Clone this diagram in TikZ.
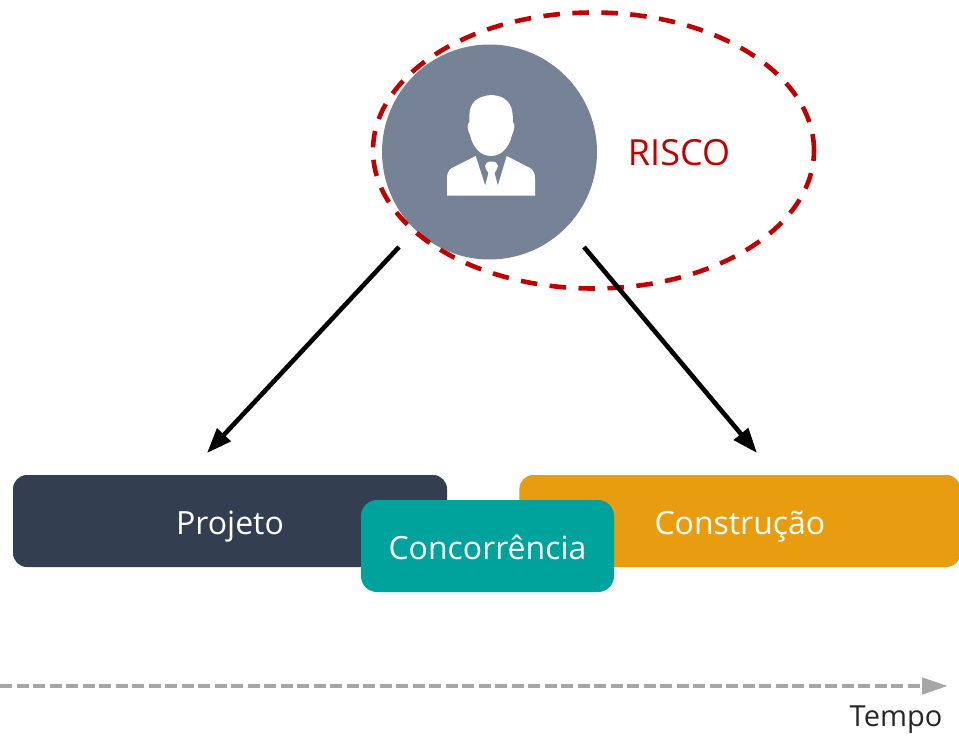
\documentclass[tikz,border=0pt]{standalone}
\usepackage{fontspec}
\setmainfont{Open Sans}
\usetikzlibrary{shapes, arrows.meta, positioning}
\definecolor{projetoblue}{HTML}{333F50}
\definecolor{obraorange}{HTML}{E89C10}
\definecolor{concteal}{HTML}{00A39B}
\definecolor{riscored}{HTML}{C00000}
\definecolor{personslate}{HTML}{768396}
\definecolor{tempogray}{HTML}{A6A6A6}
\tikzset{
  phase/.style={rounded corners=14pt, text=white, inner sep=0pt, text height=30pt, text depth=4pt, font=\fontsize{32}{38}\selectfont},
  flow/.style={->, line width=4.6pt, black},
  iconpart/.style={fill=white, draw=none}
}
\begin{document}
\begin{tikzpicture}[x=1pt, y=-1pt, >={Triangle[length=25pt, width=18pt]}]
\useasboundingbox (0,0) rectangle (959,736);
% phases
\node[phase, fill=projetoblue, minimum width=434pt, minimum height=92pt] (projeto) at (230,521) {Projeto};
\node[phase, fill=obraorange, minimum width=441pt, minimum height=92pt, right=72pt of projeto] (construcao) {Construção};
\node[phase, fill=concteal, rounded corners=16pt, minimum width=253pt, minimum height=92pt] (concorrencia) at (487.5,546) {Concorrência};
% person
\node[circle, fill=personslate, minimum size=215pt, inner sep=0pt] (person) at (489.5,152) {};
\fill[iconpart] (447,195.7) -- (447,179) .. controls (447,171) and (450,168.5) .. (455,166.5) -- (475.7,156) -- (485,185) -- (498,185) -- (506.7,156) -- (527,166.5) .. controls (532,168.5) and (535,171) .. (535,179) -- (535,195.7) -- cycle;
\fill[iconpart] (469.5,122) .. controls (468.5,108) and (471,97) .. (491,95) .. controls (510,96) and (513.5,108) .. (512.8,122) .. controls (515,124) and (515,129) .. (512,135) .. controls (509,148) and (501,156) .. (491,156) .. controls (481,156) and (473,148) .. (470,135) .. controls (467,129) and (467,124) .. (469.5,122) -- cycle;
\fill[iconpart] (491.5,161.5) .. controls (488,161.5) and (485,163) .. (485,166) .. controls (485,168) and (487,171) .. (488.5,173) -- (485,186) -- (498,186) -- (494.5,173) .. controls (496,171) and (498,168) .. (498,166) .. controls (498,163) and (495,161.5) .. (491.5,161.5) -- cycle;
% risk
\node[ellipse, draw=riscored, line width=4.6pt, dash pattern=on 16.5pt off 12.5pt, minimum width=441pt, minimum height=276pt, inner sep=0pt] (risco) at (593.5,150.5) {};
\node[text=riscored, inner sep=0pt, text height=30pt, text depth=4pt, font=\fontsize{36}{42}\selectfont] (riscolabel) at (679,152) {RISCO};
% arrows
\coordinate (projetotip) at (207,453);
\coordinate (construcaotip) at (757,453);
\coordinate (personleft) at (399,247);
\coordinate (personright) at (584,247);
\draw[flow] (personleft) -- (projetotip);
\draw[flow] (personright) -- (construcaotip);
% time axis
\coordinate (tempostart) at (0,686);
\coordinate (tempoend) at (948,686);
\draw[-{Triangle[length=26pt, width=16pt]}, tempogray, line width=4.5pt, dash pattern=on 12pt off 4.5pt] (tempostart) -- (tempoend);
\node[inner sep=0pt, text height=22pt, text depth=4pt, font=\fontsize{29}{34}\selectfont, text=black!85] (tempo) at (896,717) {Tempo};
\end{tikzpicture}
\end{document}
